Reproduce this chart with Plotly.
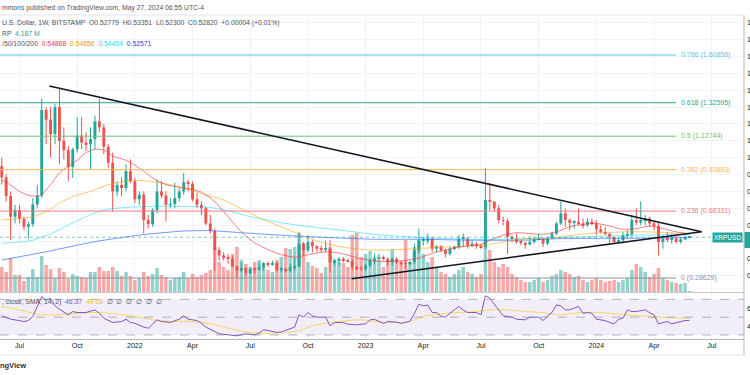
import plotly.graph_objects as go
import pandas as pd

# ---------------- data (weekly XRP/USD) ----------------
start_date = "2021-06-07"
n_bars = 156
dates = pd.date_range(start_date, periods=n_bars, freq="7D")

opens = [0.95, 0.883, 0.773, 0.65, 0.69, 0.636, 0.59, 0.605, 0.723, 0.775, 1.283, 1.225,
         1.14, 1.3, 1.1, 1.045, 0.945, 1.05, 1.13, 1.09, 1.08, 1.11, 1.215, 1.18,
         1.065, 0.97, 0.8, 0.838, 0.82, 0.92, 0.86, 0.753, 0.78, 0.63, 0.606, 0.69,
         0.8, 0.775, 0.72, 0.725, 0.76, 0.8, 0.854, 0.845, 0.753, 0.72, 0.7, 0.61,
         0.565, 0.452, 0.42, 0.41, 0.4, 0.355, 0.33, 0.345, 0.315, 0.34, 0.335, 0.35,
         0.375, 0.365, 0.375, 0.335, 0.34, 0.33, 0.35, 0.355, 0.49, 0.45, 0.5, 0.475,
         0.46, 0.455, 0.46, 0.38, 0.39, 0.4, 0.39, 0.385, 0.35, 0.345, 0.34, 0.36,
         0.39, 0.4, 0.41, 0.4, 0.38, 0.4, 0.38, 0.375, 0.37, 0.38, 0.45, 0.51,
         0.51, 0.52, 0.46, 0.475, 0.45, 0.43, 0.46, 0.47, 0.52, 0.52, 0.48, 0.49,
         0.475, 0.47, 0.75, 0.74, 0.7, 0.63, 0.625, 0.53, 0.52, 0.5, 0.495, 0.485,
         0.5, 0.515, 0.52, 0.49, 0.52, 0.55, 0.61, 0.67, 0.63, 0.614, 0.62, 0.61,
         0.6, 0.62, 0.61, 0.575, 0.56, 0.55, 0.53, 0.5, 0.51, 0.54, 0.545, 0.63,
         0.615, 0.63, 0.64, 0.61, 0.595, 0.5, 0.52, 0.515, 0.52, 0.5, 0.515, 0.52779]
highs = [1.0, 0.9, 0.8, 0.72, 0.72, 0.65, 0.62, 0.76, 0.84, 1.35, 1.3, 1.3,
         1.32, 1.407, 1.18, 1.07, 1.06, 1.24, 1.24, 1.15, 1.18, 1.25, 1.35, 1.2,
         1.08, 1.03, 0.86, 0.88, 0.96, 0.99, 0.88, 0.8, 0.8, 0.66, 0.7, 0.87,
         0.86, 0.8, 0.76, 0.85, 0.82, 0.91, 0.87, 0.86, 0.79, 0.74, 0.71, 0.66,
         0.58, 0.47, 0.44, 0.43, 0.42, 0.36, 0.38, 0.35, 0.35, 0.35, 0.38, 0.38,
         0.385, 0.39, 0.38, 0.35, 0.345, 0.37, 0.4, 0.56, 0.5, 0.54, 0.51, 0.48,
         0.48, 0.51, 0.51, 0.4, 0.41, 0.41, 0.4, 0.4, 0.36, 0.36, 0.37, 0.4,
         0.43, 0.43, 0.42, 0.41, 0.41, 0.41, 0.39, 0.39, 0.39, 0.49, 0.58, 0.53,
         0.55, 0.53, 0.48, 0.48, 0.46, 0.47, 0.48, 0.54, 0.55, 0.53, 0.51, 0.5,
         0.49, 0.94, 0.85, 0.74, 0.72, 0.65, 0.64, 0.54, 0.55, 0.51, 0.5, 0.53,
         0.53, 0.55, 0.52, 0.53, 0.56, 0.62, 0.74, 0.7, 0.64, 0.63, 0.7, 0.64,
         0.64, 0.64, 0.63, 0.6, 0.59, 0.55, 0.53, 0.52, 0.56, 0.57, 0.66, 0.7,
         0.74, 0.66, 0.65, 0.62, 0.62, 0.54, 0.56, 0.55, 0.535, 0.53, 0.54, 0.53351]
lows = [0.84, 0.74, 0.511, 0.61, 0.61, 0.57, 0.52, 0.59, 0.7, 0.76, 1.08, 1.0,
        1.08, 0.96, 0.99, 0.86, 0.88, 1.03, 1.05, 1.04, 0.93, 1.05, 1.15, 1.02,
        0.94, 0.68, 0.77, 0.77, 0.8, 0.85, 0.73, 0.72, 0.55, 0.58, 0.59, 0.67,
        0.76, 0.62, 0.7, 0.7, 0.74, 0.78, 0.8, 0.74, 0.7, 0.66, 0.6, 0.55,
        0.33, 0.39, 0.39, 0.37, 0.35, 0.2863, 0.32, 0.3, 0.31, 0.31, 0.33, 0.33,
        0.35, 0.36, 0.32, 0.32, 0.32, 0.32, 0.33, 0.35, 0.42, 0.44, 0.44, 0.44,
        0.44, 0.44, 0.32, 0.36, 0.36, 0.38, 0.38, 0.33, 0.33, 0.33, 0.33, 0.35,
        0.37, 0.39, 0.39, 0.36, 0.36, 0.37, 0.36, 0.34, 0.36, 0.37, 0.43, 0.48,
        0.49, 0.44, 0.44, 0.44, 0.41, 0.42, 0.45, 0.46, 0.47, 0.46, 0.47, 0.46,
        0.46, 0.46, 0.69, 0.68, 0.61, 0.6, 0.43, 0.5, 0.49, 0.48, 0.46, 0.48,
        0.49, 0.51, 0.47, 0.48, 0.52, 0.54, 0.6, 0.59, 0.57, 0.58, 0.6, 0.58,
        0.59, 0.6, 0.54, 0.55, 0.54, 0.49, 0.49, 0.49, 0.49, 0.52, 0.53, 0.6,
        0.6, 0.6, 0.59, 0.57, 0.42, 0.46, 0.5, 0.49, 0.49, 0.49, 0.51, 0.523]
closes = [0.883, 0.773, 0.65, 0.69, 0.636, 0.59, 0.605, 0.723, 0.775, 1.283, 1.225, 1.14,
          1.3, 1.1, 1.045, 0.945, 1.05, 1.13, 1.09, 1.08, 1.11, 1.215, 1.18, 1.065,
          0.97, 0.8, 0.838, 0.82, 0.92, 0.86, 0.753, 0.78, 0.63, 0.606, 0.69, 0.8,
          0.775, 0.72, 0.725, 0.76, 0.8, 0.854, 0.845, 0.753, 0.72, 0.7, 0.61, 0.565,
          0.452, 0.42, 0.41, 0.4, 0.355, 0.33, 0.345, 0.315, 0.34, 0.335, 0.35, 0.375,
          0.365, 0.375, 0.335, 0.34, 0.33, 0.35, 0.355, 0.49, 0.45, 0.5, 0.475, 0.46,
          0.455, 0.46, 0.38, 0.39, 0.4, 0.39, 0.385, 0.35, 0.345, 0.34, 0.36, 0.39,
          0.4, 0.41, 0.4, 0.38, 0.4, 0.38, 0.375, 0.37, 0.38, 0.45, 0.51, 0.51,
          0.52, 0.46, 0.475, 0.45, 0.43, 0.46, 0.47, 0.52, 0.52, 0.48, 0.49, 0.475,
          0.47, 0.75, 0.74, 0.7, 0.63, 0.625, 0.53, 0.52, 0.5, 0.495, 0.485, 0.5,
          0.515, 0.52, 0.49, 0.52, 0.55, 0.61, 0.67, 0.63, 0.614, 0.62, 0.61, 0.6,
          0.62, 0.61, 0.575, 0.56, 0.55, 0.53, 0.5, 0.51, 0.54, 0.545, 0.63, 0.615,
          0.63, 0.64, 0.61, 0.595, 0.5, 0.52, 0.515, 0.52, 0.5, 0.515, 0.52779, 0.5282]
volume_m = [250, 200, 340, 170, 170, 110, 150, 230, 150, 360, 270, 230,
            140, 240, 200, 130, 180, 160, 150, 140, 200, 200, 250, 210,
            210, 250, 210, 160, 200, 160, 120, 140, 200, 160, 180, 240,
            170, 150, 120, 140, 150, 200, 140, 180, 150, 170, 190, 220,
            450, 300, 250, 220, 380, 450, 320, 280, 250, 300, 320, 250,
            220, 200, 320, 350, 440, 430, 450, 590, 490, 300, 260, 240,
            190, 250, 450, 320, 300, 290, 250, 570, 590, 350, 380, 410,
            350, 320, 250, 320, 430, 300, 280, 520, 300, 450, 520, 380,
            300, 350, 250, 200, 180, 150, 180, 220, 250, 200, 180, 150,
            180, 600, 420, 300, 250, 280, 250, 180, 150, 120, 100, 100,
            120, 140, 100, 120, 160, 180, 220, 200, 180, 150, 160, 120,
            100, 120, 140, 120, 100, 110, 120, 100, 120, 140, 220, 280,
            250, 200, 150, 180, 240, 140, 120, 100, 90, 80, 90, 10]

# moving averages (bar index -> value)
sma20_idx = [0, 2, 4, 6, 8, 9, 11, 13, 15, 17, 19, 21, 23, 25, 28, 30, 32, 34, 37, 40, 43, 45, 48,
             51, 54, 57, 60, 63, 66, 70, 73, 76, 78, 81, 85, 88, 91, 94, 98, 102, 106, 108, 110,
             113, 116, 119, 122, 125, 128, 131, 134, 137, 140, 143, 146, 149, 152, 155]
sma20_val = [0.867, 0.838, 0.80, 0.776, 0.772, 0.78, 0.84, 0.91, 0.95, 0.985, 1.03, 1.05, 1.045,
             1.01, 0.985, 0.955, 0.92, 0.88, 0.84, 0.825, 0.812, 0.795, 0.74, 0.65, 0.56, 0.495,
             0.455, 0.425, 0.41, 0.43, 0.442, 0.435, 0.422, 0.40, 0.385, 0.385, 0.39, 0.405,
             0.44, 0.465, 0.48, 0.485, 0.51, 0.54, 0.555, 0.55, 0.545, 0.56, 0.59, 0.605, 0.61,
             0.595, 0.575, 0.58, 0.595, 0.58, 0.56, 0.54868]
sma50_idx = [0, 7, 10, 13, 16, 20, 24, 28, 31, 34, 38, 42, 46, 50, 53, 56, 60, 63, 68, 73, 78, 84,
             90, 94, 100, 105, 109, 113, 117, 121, 125, 130, 135, 140, 145, 150, 155]
sma50_val = [0.63, 0.65, 0.68, 0.73, 0.77, 0.80, 0.84, 0.86, 0.865, 0.857, 0.84, 0.812, 0.78,
             0.749, 0.71, 0.67, 0.62, 0.59, 0.535, 0.49, 0.465, 0.452, 0.455, 0.462, 0.47, 0.475,
             0.482, 0.50, 0.515, 0.52, 0.527, 0.545, 0.555, 0.56, 0.56, 0.555, 0.54856]
sma100_idx = [0, 7, 12, 15, 19, 23, 28, 33, 38, 43, 47, 51, 56, 60, 63, 68, 73, 78, 84, 89, 94,
              100, 106, 112, 118, 124, 130, 136, 142, 148, 155]
sma100_val = [0.492, 0.51, 0.56, 0.60, 0.65, 0.69, 0.705, 0.71, 0.712, 0.71, 0.705, 0.685, 0.65,
              0.63, 0.614, 0.595, 0.58, 0.565, 0.545, 0.535, 0.527, 0.52, 0.515, 0.515, 0.52,
              0.525, 0.53, 0.535, 0.54, 0.543, 0.54454]
sma200_idx = [0, 10, 21, 31, 41, 47, 54, 63, 73, 84, 94, 105, 118, 126, 140, 155]
sma200_val = [0.393, 0.442, 0.502, 0.541, 0.565, 0.567, 0.555, 0.54, 0.527, 0.516, 0.516, 0.511,
              0.511, 0.52, 0.522, 0.52571]

rsi_idx = [0, 2, 3, 5, 6, 7, 9, 10, 11, 12, 13, 15, 16, 17, 19, 21, 22, 23, 25, 27, 28, 29, 30, 32,
           33, 35, 36, 38, 40, 41, 42, 44, 45, 46, 48, 49, 51, 53, 55, 57, 58, 59, 60, 62, 63, 65,
           66, 67, 68, 69, 70, 71, 73, 74, 75, 77, 78, 80, 82, 83, 84, 86, 87, 89, 90, 92, 93, 94,
           95, 96, 97, 98, 99, 100, 101, 103, 104, 105, 107, 108, 109, 110, 112, 113, 115, 116,
           118, 119, 121, 122, 123, 124, 125, 126, 127, 128, 130, 131, 132, 133, 134, 136, 137,
           138, 139, 140, 141, 142, 143, 144, 145, 146, 147, 148, 149, 150, 151, 153, 154, 155]
rsi_val = [51.5, 47.7, 47.0, 45.1, 46.2, 50.7, 73.1, 69.4, 71.0, 62.7, 58.9, 52.6, 56.3, 55.2, 55.2,
           58.2, 54.4, 48.8, 44.0, 45.1, 47.7, 44.0, 43.2, 38.8, 37.6, 47.0, 45.1, 44.0, 47.7, 51.5,
           47.7, 46.2, 43.2, 38.8, 33.9, 31.3, 30.2, 29.0, 31.3, 30.2, 32.1, 35.8, 35.1, 32.8, 33.5,
           37.6, 38.8, 52.6, 50.0, 55.2, 51.5, 50.0, 50.0, 40.3, 44.0, 44.0, 42.1, 41.4, 42.5, 47.0,
           47.5, 43.0, 45.0, 44.5, 43.0, 45.5, 54.0, 64.5, 62.7, 63.5, 55.2, 55.2, 51.0, 50.0, 54.4,
           62.0, 58.0, 55.2, 55.2, 52.6, 74.0, 71.2, 58.2, 51.5, 50.0, 47.7, 47.0, 50.0, 50.0, 46.2,
           51.5, 55.2, 63.8, 62.7, 58.2, 58.2, 62.0, 54.4, 55.2, 54.4, 47.7, 46.2, 44.0, 42.5, 47.7,
           48.8, 58.2, 56.3, 56.3, 57.4, 58.2, 55.0, 52.6, 42.5, 44.0, 45.1, 42.5, 45.1, 46.2, 46.37]
rsima_idx = [0, 4, 9, 15, 21, 24, 30, 35, 41, 45, 48, 52, 56, 60, 64, 67, 70, 74, 78, 81, 84, 89,
             92, 95, 99, 103, 107, 110, 114, 118, 122, 126, 129, 133, 137, 141, 144, 148, 152, 155]
rsima_val = [61.9, 58.2, 52.6, 53.7, 55.2, 54.4, 50.7, 46.2, 45.1, 44.0, 41.4, 36.5, 32.8, 32.0,
             32.8, 35.0, 40.3, 44.0, 46.2, 47.0, 45.1, 44.0, 45.1, 50.7, 53.7, 55.2, 56.3, 58.2,
             58.2, 56.3, 55.2, 52.6, 54.4, 55.6, 54.4, 52.2, 51.5, 50.0, 49.2, 49.18]

fib_ratios = [0, 0.236, 0.382, 0.5, 0.618, 0.786]
fib_prices = [0.28629, 0.68331, 0.92893, 1.12744, 1.32595, 1.60858]
fib_colors = ["#8f929c", "#f47a80", "#ffb347", "#6fbf73", "#2aa58e", "#5fc3e8"]

tri_upper_dates = ["2021-08-21", "2024-06-15"]
tri_upper_prices = [1.425, 0.561]
tri_lower_dates = ["2022-12-11", "2024-06-15"]
tri_lower_prices = [0.282, 0.561]

x_tick_dates = ["2021-07-05", "2021-10-04", "2022-01-03", "2022-04-04", "2022-07-04", "2022-10-03",
                "2023-01-02", "2023-04-03", "2023-07-03", "2023-10-02", "2024-01-01", "2024-04-01",
                "2024-07-01"]
x_tick_text = ["Jul", "Oct", "2022", "Apr", "Jul", "Oct", "2023", "Apr", "Jul", "Oct", "2024", "Apr", "Jul"]

# ---------------- styling ----------------
UP = "#26a69a"
DN = "#ef5350"
FONT = "Liberation Sans"
W, H = 750, 375
ML, MR, MT, MB = 0, 6, 15, 36
PW, PH = W - ML - MR, H - MT - MB
DAY_MS = 86400000


def px(xp):
    return (xp - ML) / PW


def py(yp):
    return (H - MB - yp) / PH


up_flags = [c >= o for o, c in zip(opens, closes)]
body_col = [UP if u else DN for u in up_flags]
vol_col = ["rgba(38,166,154,0.5)" if u else "rgba(239,83,80,0.5)" for u in up_flags]

fig = go.Figure()

# volume (base axis, behind)
fig.add_trace(go.Bar(x=dates, y=volume_m, width=5.5 * DAY_MS, marker_color=vol_col,
                     marker_line_width=0, yaxis="y", hoverinfo="skip"))

# wicks
for flag, col in [(True, UP), (False, DN)]:
    wx, wy = [], []
    for d, h_, l_, u in zip(dates, highs, lows, up_flags):
        if u == flag:
            wx += [d, d, None]
            wy += [l_, h_, None]
    fig.add_trace(go.Scatter(x=wx, y=wy, mode="lines", line=dict(color=col, width=1),
                             yaxis="y2", hoverinfo="skip"))

# bodies
fig.add_trace(go.Bar(x=dates, y=[max(abs(c - o), 0.004) for o, c in zip(opens, closes)],
                     base=[min(o, c) for o, c in zip(opens, closes)], width=4.6 * DAY_MS,
                     marker_color=body_col, marker_line_width=0, yaxis="y2", hoverinfo="skip"))

# moving averages
for idx, val, col in [(sma200_idx, sma200_val, "rgba(41,98,255,0.65)"),
                      (sma100_idx, sma100_val, "rgba(0,210,240,0.5)"),
                      (sma50_idx, sma50_val, "rgba(255,152,0,0.55)"),
                      (sma20_idx, sma20_val, "rgba(242,54,69,0.65)")]:
    fig.add_trace(go.Scatter(x=[dates[i] for i in idx], y=val, mode="lines",
                             line=dict(color=col, width=1, shape="spline", smoothing=0.6),
                             yaxis="y2", hoverinfo="skip"))

# RSI
fig.add_trace(go.Scatter(x=[dates[i] for i in rsima_idx], y=rsima_val, mode="lines",
                         line=dict(color="rgba(245,210,60,0.8)", width=1, shape="spline"),
                         yaxis="y3", hoverinfo="skip"))
fig.add_trace(go.Scatter(x=[dates[i] for i in rsi_idx], y=rsi_val, mode="lines",
                         line=dict(color="#7e57c2", width=1), yaxis="y3", hoverinfo="skip"))

shapes = []
# RSI band and levels
shapes.append(dict(type="rect", xref="paper", x0=0, x1=1, yref="y3", y0=30, y1=70,
                   fillcolor="rgba(126,87,194,0.1)", line_width=0, layer="below"))
for lv in [70, 50, 30]:
    shapes.append(dict(type="line", xref="paper", x0=0, x1=1, yref="y3", y0=lv, y1=lv,
                       line=dict(color="rgba(120,123,134,0.55)", width=1, dash="dash")))
# fib levels
for pr, col in zip(fib_prices, fib_colors):
    shapes.append(dict(type="line", xref="x", x0="2021-01-01", x1="2024-05-06", yref="y2",
                       y0=pr, y1=pr, line=dict(color=col, width=1)))
# current price line
shapes.append(dict(type="line", xref="paper", x0=0, x1=1, yref="y2", y0=closes[-1], y1=closes[-1],
                   line=dict(color="rgba(38,166,154,0.6)", width=1, dash="dot")))
# triangle
for dd, pp in [(tri_upper_dates, tri_upper_prices), (tri_lower_dates, tri_lower_prices)]:
    shapes.append(dict(type="line", xref="x", x0=dd[0], x1=dd[1], yref="y2", y0=pp[0], y1=pp[1],
                       line=dict(color="#131722", width=1.6)))
# frame lines
shapes.append(dict(type="line", xref="paper", yref="paper", x0=0, x1=1, y0=1, y1=1,
                   line=dict(color="#e0e3eb", width=1)))
shapes.append(dict(type="line", xref="paper", yref="paper", x0=0, x1=1, y0=py(292.5), y1=py(292.5),
                   line=dict(color="#c3c6ce", width=1)))
shapes.append(dict(type="line", xref="paper", yref="paper", x0=0, x1=1, y0=py(355), y1=py(355),
                   line=dict(color="#e0e3eb", width=1)))
shapes.append(dict(type="line", xref="paper", yref="paper", x0=1, x1=1, y0=py(15), y1=py(355),
                   line=dict(color="#b2b5be", width=1)))
# price tag on the axis
shapes.append(dict(type="rect", xref="paper", yref="paper", x0=px(744.5), x1=px(760),
                   y0=py(248), y1=py(232), fillcolor=UP, line_width=0))

ann = []
hdr = dict(xref="paper", yref="paper", xanchor="left", yanchor="middle", showarrow=False,
           font=dict(family=FONT, size=6.8, color="#50535e"))
ann.append(dict(hdr, x=0, y=py(8),
                text="mmons published on TradingView.com, May 27, 2024 06:55 UTC-4"))
ann.append(dict(hdr, x=0, y=py(23),
                text="U.S. Dollar, 1W, BITSTAMP  O0.52779  H0.53351  L0.52300  C0.52820  +0.00004 (+0.01%)"))
ann.append(dict(hdr, x=0, y=py(33),
                text="RP  <span style='color:#26a69a'>4.187 M</span>"))
ann.append(dict(hdr, x=0, y=py(43),
                text="/50/100/200  <span style='color:#f23645'>0.54868</span>  "
                     "<span style='color:#ff9800'>0.54856</span>  "
                     "<span style='color:#2ad4e8'>0.54454</span>  "
                     "<span style='color:#2f45e0'>0.52571</span>"))
ann.append(dict(hdr, x=0, y=py(301.5),
                text=", close, SMA, 14, 2)  <span style='color:#7e57c2'>46.37</span>  "
                     "<span style='color:#e8c62a'>49.18</span>  ∅  ∅  ∅  ∅  ∅  ∅"))
ann.append(dict(xref="paper", yref="paper", x=px(27.5), y=py(365), xanchor="right", yanchor="middle",
                showarrow=False, text="<b>TradingView</b>",
                font=dict(family=FONT, size=7.5, color="#2a2e39")))
for r, pr, col in zip(fib_ratios, fib_prices, fib_colors):
    ann.append(dict(xref="x", x="2024-05-11", yref="y2", y=pr, xanchor="left", yanchor="middle",
                    showarrow=False, text=f"{r:g} ({pr:.5f})",
                    font=dict(family=FONT, size=7, color=col)))
ann.append(dict(xref="paper", yref="paper", x=px(743), y=py(237.2), xanchor="right", yanchor="middle",
                showarrow=False, text="XRPUSD", bgcolor=UP, borderpad=1,
                font=dict(family=FONT, size=6.5, color="white")))

fig.update_layout(
    template="none",
    width=W, height=H, margin=dict(l=ML, r=MR, t=MT, b=MB, pad=0, autoexpand=False),
    paper_bgcolor="white", plot_bgcolor="white", showlegend=False, barmode="overlay",
    shapes=shapes, annotations=ann,
    xaxis=dict(type="date", range=["2021-06-04 05:44", "2024-08-20 22:19"], anchor="y3",
               automargin=False,
               tickvals=x_tick_dates, ticktext=x_tick_text, showgrid=True, gridcolor="#f0f3fa",
               gridwidth=1, showline=True, linecolor="#b2b5be", ticks="", zeroline=False,
               tickfont=dict(family=FONT, size=7, color="#131722")),
    yaxis=dict(domain=[py(292), 1], range=[0, 2770], visible=False, showgrid=False,
               automargin=False, fixedrange=True),
    yaxis2=dict(overlaying="y", side="right", anchor="x", range=[0.2033, 1.8462], dtick=0.1, tick0=0,
                automargin=False, ticklabelstandoff=2,
                showgrid=True, gridcolor="#f0f3fa", zeroline=False, ticks="", tickformat=".2f",
                tickfont=dict(family=FONT, size=7, color="#131722")),
    yaxis3=dict(domain=[0, py(293)], range=[25.5, 77.1], side="right", anchor="x", tickvals=[40, 60],
                automargin=False, ticklabelstandoff=2, showgrid=False, zeroline=False, ticks="",
                tickfont=dict(family=FONT, size=7, color="#131722")),
)

fig.write_html("out.html", config={"displayModeBar": False},
               post_script="document.body.style.margin='0px';document.body.style.overflow='hidden';")
